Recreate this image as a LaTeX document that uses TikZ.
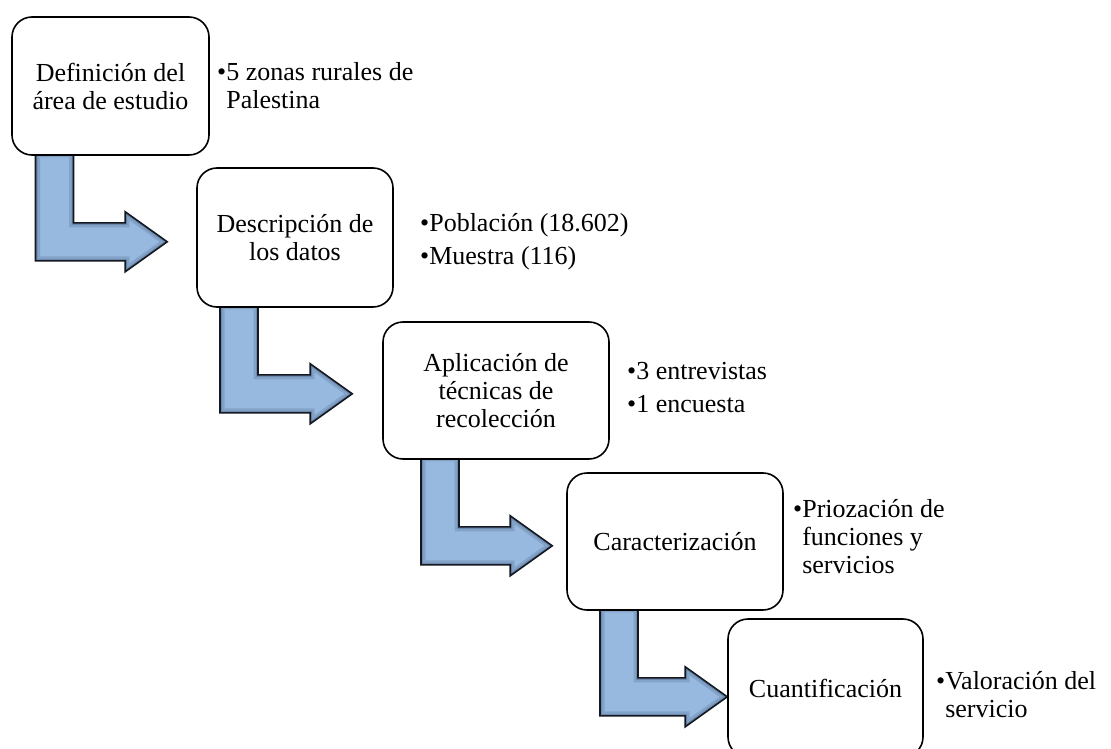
\documentclass[tikz,border=0pt]{standalone}
\usepackage{fontspec}
\setmainfont{Liberation Serif}
\usepackage{tikz}
\usetikzlibrary{calc,backgrounds}

\definecolor{arrowblue}{RGB}{152,185,223}
\definecolor{arrowrim}{RGB}{70,95,130}
\definecolor{arrowdark}{RGB}{20,24,32}

% outline of a bent block arrow, from coordinate (s) down and right to tip (t)
\newcommand{\arrowpath}{($(s)+(-75,-3)$) -- ($(s)+(-37,-3)$) -- ($(s)+(-37,67)$)
    -- ($(s-|t)+(-42,67)$) -- ($(s-|t)+(-42,56)$) -- ($(s-|t)+(0,86)$)
    -- ($(s-|t)+(-42,116)$) -- ($(s-|t)+(-42,105)$) -- ($(s)+(-75,105)$) -- cycle}
\newcommand{\bentarrow}[3]{%
  \coordinate (s) at (#1.south);
  \coordinate (t) at ($(#2.west)+(-#3,0)$);
  \begin{scope}
    \clip \arrowpath;
    \fill[arrowblue] \arrowpath;
    \draw[arrowrim, line width=9pt, opacity=.25] \arrowpath;
    \draw[arrowrim, line width=4pt, opacity=.35] \arrowpath;
  \end{scope}
  \draw[bent] \arrowpath;}
\newcommand{\itm}{\textbullet}
\newcommand{\hng}{\hphantom{\textbullet}}

\begin{document}
\begin{tikzpicture}[x=1pt, y=-1pt,
    txt/.style={font=\fontsize{26}{28}\selectfont},
    bent/.style={draw=arrowdark, line width=1.6pt}]
\clip (0,0) rectangle (1111,749);
\begin{scope}[every node/.style={txt, draw, line width=1.6pt, rounded corners=20pt, fill=white, align=center, inner sep=0pt}]
    \node[minimum width=197, minimum height=138] (definicion) at (110.5,86) {Definición del\\área de estudio};
    \node[minimum width=196, minimum height=139] (descripcion) at (295,237.5) {Descripción de\\los datos};
    \node[minimum width=226, minimum height=137] (aplicacion) at (496,390.5) {Aplicación de\\técnicas de\\recolección};
    \node[minimum width=216, minimum height=137] (caracterizacion) at (675,541.5) {Caracterización};
    \node[minimum width=195, minimum height=138] (cuantificacion) at (825.5,688) {Cuantificación};
\end{scope}
\begin{scope}[every node/.style={txt, anchor=west, align=left, inner sep=0pt}]
    \node (l1) at (217,86) {\itm 5 zonas rurales de\\\hng Palestina};
    \node (l2) at (420,242) {\itm Población (18.602)\\[5pt]\itm Muestra (116)};
    \node (l3) at (627,388) {\itm 3 entrevistas\\[5pt]\itm 1 encuesta};
    \node (l4) at (793,537) {\itm Priozación de\\\hng funciones y\\\hng servicios};
    \node (l5) at (936,695) {\itm Valoración del\\\hng servicio};
\end{scope}
\begin{scope}[on background layer]
    \bentarrow{definicion}{descripcion}{29}
    \bentarrow{descripcion}{aplicacion}{30}
    \bentarrow{aplicacion}{caracterizacion}{14}
    \bentarrow{caracterizacion}{cuantificacion}{0}
\end{scope}
\end{tikzpicture}
\end{document}
